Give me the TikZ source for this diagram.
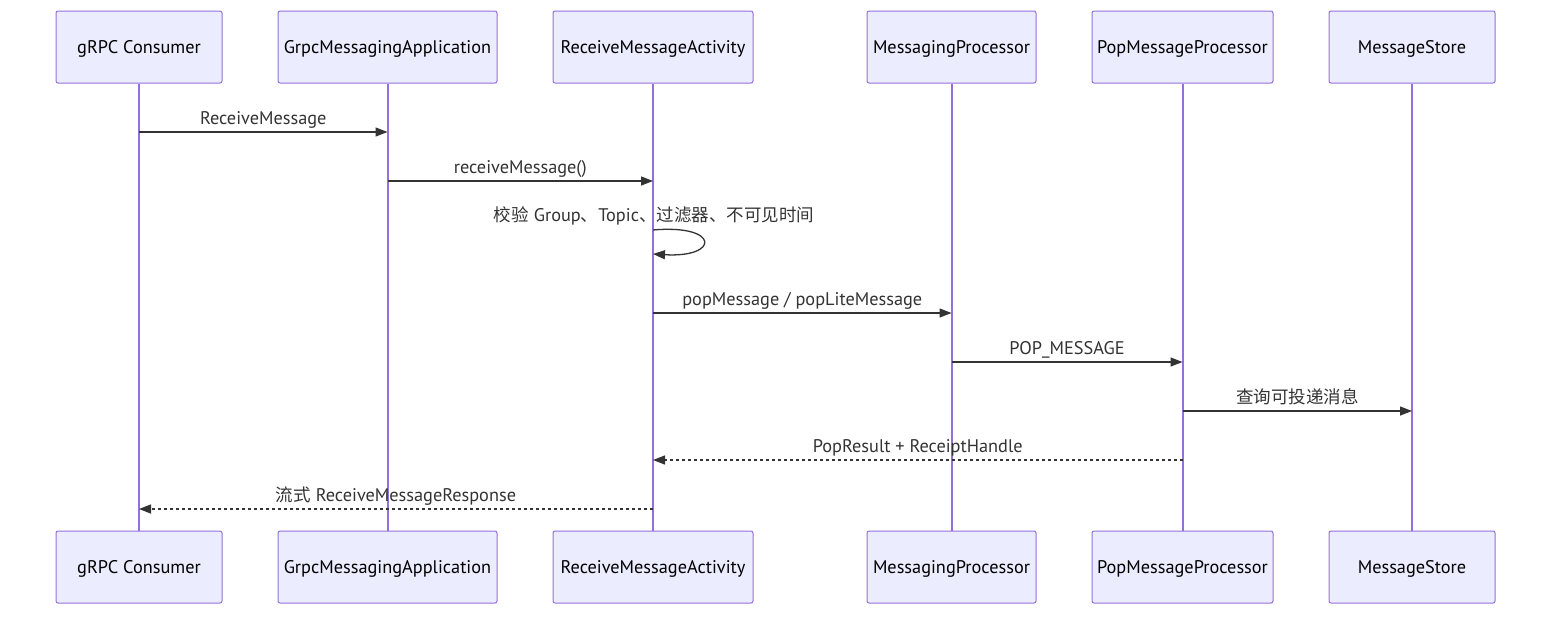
\documentclass[tikz,border=0pt]{standalone}
\usepackage{fontspec}
\setmainfont{PT Sans}
\newfontfamily\cjk{Noto Sans CJK SC}
\usetikzlibrary{arrows.meta}
\definecolor{boxfill}{HTML}{ECECFF}
\definecolor{boxline}{HTML}{9370DB}
\definecolor{txt}{HTML}{333333}
\tikzset{
  actor/.style={draw=boxline, fill=boxfill, line width=1pt, rounded corners=2pt,
    minimum height=72pt, inner sep=0pt, text height=15pt, text depth=3pt,
    font=\fontsize{18.3}{20}\selectfont, text=black},
  life/.style={draw=boxline, line width=2pt},
  msg/.style={draw=txt, line width=1.3pt, -{Triangle[length=12pt,width=9pt]}},
  reply/.style={msg, dash pattern=on 3pt off 3pt},
  lbl/.style={font=\fontsize{18.3}{20}\selectfont, text=txt, inner sep=0pt},
  mlbl/.style={lbl, midway, anchor=base, yshift=8pt},
}
\newcommand{\zh}[1]{{\cjk\fontsize{17.5}{20}\selectfont #1}}
\begin{document}
\begin{tikzpicture}[x=1pt,y=-1pt]
\useasboundingbox (0,0) rectangle (1568,622);
% top actors
\node[actor, minimum width=166pt] (a1) at (139,47) {gRPC Consumer};
\node[actor, minimum width=219pt] (a2) at (387.5,47) {GrpcMessagingApplication};
\node[actor, minimum width=200pt] (a3) at (653,47) {ReceiveMessageActivity};
\node[actor, minimum width=169pt] (a4) at (951.5,47) {MessagingProcessor};
\node[actor, minimum width=181pt] (a5) at (1182.5,47) {PopMessageProcessor};
\node[actor, minimum width=166pt] (a6) at (1412,47) {MessageStore};
% bottom actors
\node[actor, minimum width=166pt] (b1) at (139,567) {gRPC Consumer};
\node[actor, minimum width=219pt] (b2) at (387.5,567) {GrpcMessagingApplication};
\node[actor, minimum width=200pt] (b3) at (653,567) {ReceiveMessageActivity};
\node[actor, minimum width=169pt] (b4) at (951.5,567) {MessagingProcessor};
\node[actor, minimum width=181pt] (b5) at (1182.5,567) {PopMessageProcessor};
\node[actor, minimum width=166pt] (b6) at (1412,567) {MessageStore};
% lifelines
\foreach \i in {1,...,6}{\draw[life] (a\i.south) -- (b\i.north);}
% messages
\draw[msg] (a1.south |- 0,132) -- (a2.south |- 0,132)
  node[mlbl] (l1) {ReceiveMessage};
\draw[msg] (a2.south |- 0,181) -- (a3.south |- 0,181)
  node[mlbl] (l2) {receiveMessage()};
\node[lbl, anchor=base] (l3) at (654,221) {\zh{校验} Group\zh{、}Topic\zh{、过滤器、不可见时间}};
\coordinate (s1) at (a3.south |- 0,230);
\coordinate (s2) at (a3.south |- 0,254);
\draw[msg] (s1) .. controls (720,224) and (720,258) .. (s2);
\draw[msg] (a3.south |- 0,313) -- (a4.south |- 0,313)
  node[mlbl] (l4) {popMessage / popLiteMessage};
\draw[msg] (a4.south |- 0,362) -- (a5.south |- 0,362)
  node[mlbl] (l5) {POP\_MESSAGE};
\draw[msg] (a5.south |- 0,411) -- (a6.south |- 0,411)
  node[mlbl] (l6) {\zh{查询可投递消息}};
\draw[reply] (a5.south |- 0,460) -- (a3.south |- 0,460)
  node[mlbl] (l7) {PopResult + ReceiptHandle};
\draw[reply] (a3.south |- 0,509) -- (a1.south |- 0,509)
  node[mlbl] (l8) {\zh{流式} ReceiveMessageResponse};
\end{tikzpicture}
\end{document}
